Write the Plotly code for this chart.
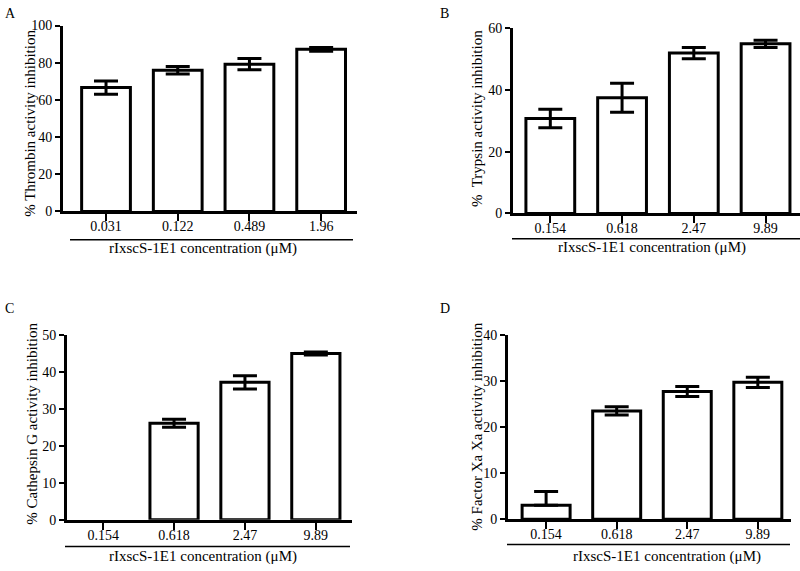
import plotly.graph_objects as go

# ---- data ----
conc_A = ["0.031", "0.122", "0.489", "1.96"]
conc_BCD = ["0.154", "0.618", "2.47", "9.89"]

thrombin = [66.6, 75.9, 79.2, 87.2]
thrombin_err = [3.5, 2.0, 3.0, 1.0]

trypsin = [30.8, 37.5, 52.0, 55.0]
trypsin_err = [3.0, 4.7, 1.8, 1.2]

cathepsin = [0, 26.2, 37.3, 45.1]
cathepsin_err = [0, 1.1, 1.8, 0.4]

factorxa = [3.0, 23.5, 27.7, 29.7]
factorxa_err_plus = [3.0, 0.9, 1.1, 1.1]
factorxa_err_minus = [0, 0.9, 1.1, 1.1]

y_titles = ["% Thrombin activity inhibition", "%  Trypsin activity inhibition",
            "% Cathepsin G activity inhibition", "% Factor Xa Xa activity inhibition"]
x_title = "rIxscS-1E1 concentration (μM)"
panel_letters = ["A", "B", "C", "D"]

W, H = 800, 571
FONT = "Liberation Serif, Times New Roman, serif"

# layout (pixel positions in the 800x571 page)
panels = [
    dict(cats=conc_A, y=thrombin, ep=thrombin_err, em=thrombin_err, ymax=100, dtick=20,
         xd=(63, 357), yd=(210, 19), xr=(-0.6, 3.5),
         yt=(30, 120), xt=(203, 248), ul=(70, 353, 239), letter=(3, 7)),
    dict(cats=conc_BCD, y=trypsin, ep=trypsin_err, em=trypsin_err, ymax=60, dtick=20,
         xd=(513, 800), yd=(212, 22), xr=(-0.52, 3.48),
         yt=(477, 114), xt=(652, 247), ul=(512, 800, 238), letter=(438, 7)),
    dict(cats=conc_BCD, y=cathepsin, ep=cathepsin_err, em=cathepsin_err, ymax=50, dtick=10,
         xd=(67, 352), yd=(526.7, 337.3), xr=(-0.51, 3.51),
         yt=(32, 428), xt=(203, 564), ul=(65, 350, 554), letter=(3, 310)),
    dict(cats=conc_BCD, y=factorxa, ep=factorxa_err_plus, em=factorxa_err_minus, ymax=40, dtick=10,
         xd=(508, 791), yd=(526, 336.7), xr=(-0.54, 3.47),
         yt=(477, 431), xt=(667, 564), ul=(507, 790, 552), letter=(438, 310)),
]

fig = go.Figure()
annotations = []
shapes = []
for i, p in enumerate(panels):
    n = "" if i == 0 else str(i + 1)
    xs = list(range(len(p["cats"])))
    line_w = [3 if v > 0 else 0 for v in p["y"]]
    fig.add_trace(go.Bar(
        x=xs, y=p["y"], xaxis="x" + n, yaxis="y" + n, width=0.68,
        marker=dict(color="white", line=dict(color="black", width=line_w)),
        showlegend=False, hoverinfo="skip",
    ))
    # error bars only where there is something to show
    keep = [k for k in xs if p["y"][k] > 0 or p["ep"][k] > 0]
    fig.add_trace(go.Scatter(
        x=[xs[k] for k in keep], y=[p["y"][k] for k in keep],
        xaxis="x" + n, yaxis="y" + n, mode="markers",
        marker=dict(size=1, opacity=0),
        error_y=dict(type="data", array=[p["ep"][k] for k in keep],
                     arrayminus=[p["em"][k] for k in keep], symmetric=False,
                     color="black", thickness=3, width=12),
        showlegend=False, hoverinfo="skip", cliponaxis=False,
    ))
    xd = [p["xd"][0] / W, p["xd"][1] / W]
    yd = [1 - p["yd"][0] / H, 1 - p["yd"][1] / H]
    axstyle = dict(showline=True, linewidth=3, linecolor="black", showgrid=False,
                   zeroline=False, ticks="outside", tickwidth=2, tickcolor="black",
                   tickfont=dict(family=FONT, size=14, color="black"))
    fig.update_layout(**{
        "xaxis" + n: dict(domain=xd, range=list(p["xr"]), anchor="y" + n,
                          tickmode="array", tickvals=xs,
                          ticktext=p["cats"], ticklen=7, ticklabelstandoff=-7, **axstyle),
        "yaxis" + n: dict(domain=yd, range=[0, p["ymax"]], anchor="x" + n,
                          dtick=p["dtick"], ticklen=5, **axstyle),
    })
    ux0, ux1, uy = p["ul"]
    shapes.append(dict(type="line", xref="paper", yref="paper",
                       x0=ux0 / W, x1=ux1 / W, y0=1 - uy / H, y1=1 - uy / H,
                       line=dict(color="black", width=1.5)))
    annotations.append(dict(text=x_title, xref="paper", yref="paper",
                            x=p["xt"][0] / W, y=1 - p["xt"][1] / H, showarrow=False,
                            font=dict(family=FONT, size=15, color="black"),
                            xanchor="center", yanchor="middle"))
    annotations.append(dict(text=y_titles[i], xref="paper", yref="paper",
                            x=p["yt"][0] / W, y=1 - p["yt"][1] / H, textangle=-90,
                            showarrow=False, font=dict(family=FONT, size=15, color="black"),
                            xanchor="center", yanchor="middle"))
    annotations.append(dict(text=panel_letters[i], xref="paper", yref="paper",
                            x=p["letter"][0] / W, y=1 - p["letter"][1] / H, showarrow=False,
                            font=dict(family=FONT, size=14, color="black"),
                            xanchor="left", yanchor="middle"))

fig.update_layout(width=W, height=H, margin=dict(l=0, r=0, t=0, b=0),
                  paper_bgcolor="white", plot_bgcolor="white",
                  annotations=annotations, shapes=shapes)
fig.write_html("out.html", config={"displayModeBar": False},
               post_script="document.body.style.margin='0';")
